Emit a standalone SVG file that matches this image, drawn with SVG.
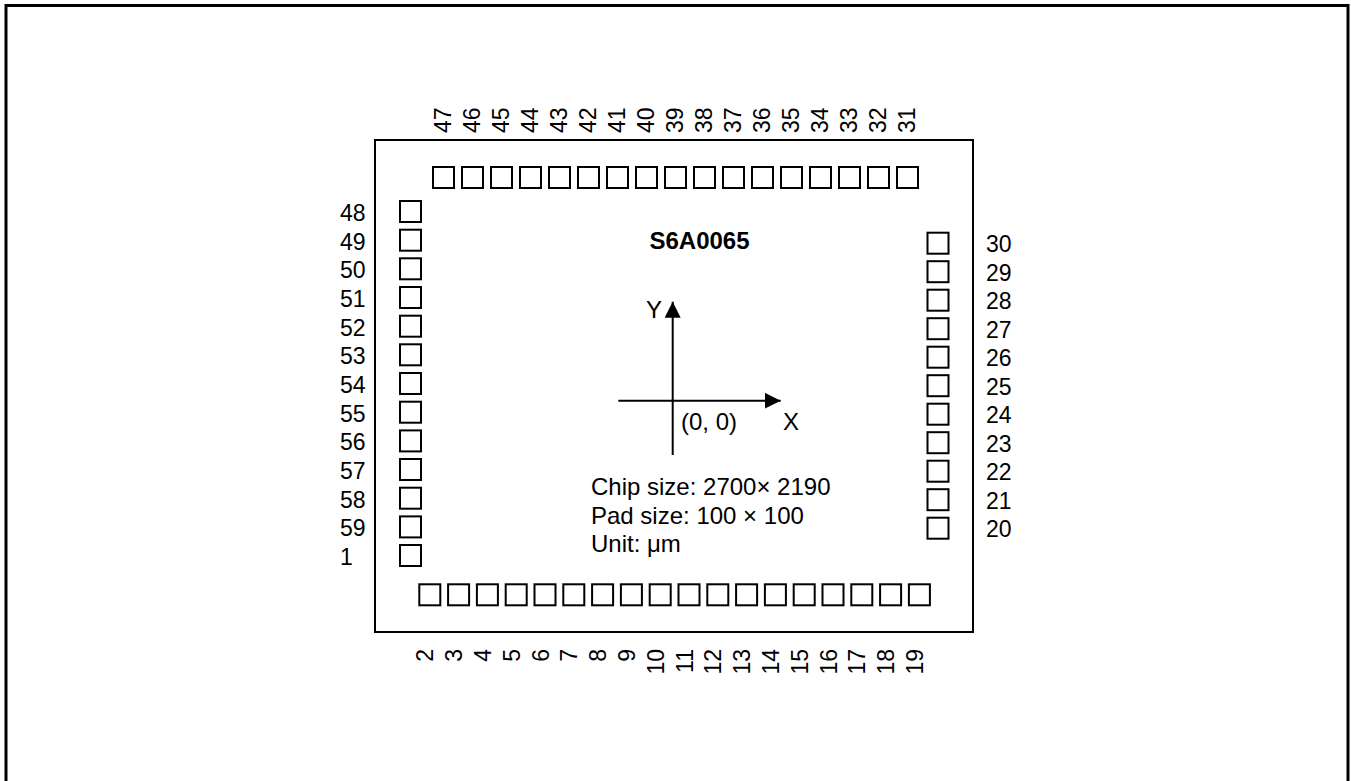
<svg xmlns="http://www.w3.org/2000/svg" width="1351" height="781" viewBox="0 0 1351 781">
<style>
.pad{fill:#fff;stroke:#000;stroke-width:2}
.lbl{font-family:"Liberation Sans",Arial,sans-serif;font-size:23px;fill:#000}
.txt{font-family:"Liberation Sans",Arial,sans-serif;font-size:24px;fill:#000}
.ax{stroke:#000;stroke-width:2;fill:none}
</style>
<defs>
<marker id="arrow" viewBox="0 0 16 16" refX="16" refY="8" markerWidth="16" markerHeight="16" markerUnits="userSpaceOnUse" orient="auto"><path d="M0,0 L16,8 L0,16 z" fill="#000"/></marker>
</defs>
<rect width="1351" height="781" fill="#fff"/>
<rect id="frame" x="6" y="5.5" width="1342" height="900" fill="none" stroke="#000" stroke-width="3"/>
<g id="chip"><rect x="375" y="140" width="598" height="492" fill="none" stroke="#000" stroke-width="2"/></g>
<g id="pads-top">
<g id="pad-47"><rect class="pad" x="433" y="167" width="21" height="21"/><text class="lbl" transform="translate(450.5,133) rotate(-90)">47</text></g>
<g id="pad-46"><rect class="pad" x="462" y="167" width="21" height="21"/><text class="lbl" transform="translate(479.5,133) rotate(-90)">46</text></g>
<g id="pad-45"><rect class="pad" x="491" y="167" width="21" height="21"/><text class="lbl" transform="translate(508.5,133) rotate(-90)">45</text></g>
<g id="pad-44"><rect class="pad" x="520" y="167" width="21" height="21"/><text class="lbl" transform="translate(537.5,133) rotate(-90)">44</text></g>
<g id="pad-43"><rect class="pad" x="549" y="167" width="21" height="21"/><text class="lbl" transform="translate(566.5,133) rotate(-90)">43</text></g>
<g id="pad-42"><rect class="pad" x="578" y="167" width="21" height="21"/><text class="lbl" transform="translate(595.5,133) rotate(-90)">42</text></g>
<g id="pad-41"><rect class="pad" x="607" y="167" width="21" height="21"/><text class="lbl" transform="translate(624.5,133) rotate(-90)">41</text></g>
<g id="pad-40"><rect class="pad" x="636" y="167" width="21" height="21"/><text class="lbl" transform="translate(653.5,133) rotate(-90)">40</text></g>
<g id="pad-39"><rect class="pad" x="665" y="167" width="21" height="21"/><text class="lbl" transform="translate(682.5,133) rotate(-90)">39</text></g>
<g id="pad-38"><rect class="pad" x="694" y="167" width="21" height="21"/><text class="lbl" transform="translate(711.5,133) rotate(-90)">38</text></g>
<g id="pad-37"><rect class="pad" x="723" y="167" width="21" height="21"/><text class="lbl" transform="translate(740.5,133) rotate(-90)">37</text></g>
<g id="pad-36"><rect class="pad" x="752" y="167" width="21" height="21"/><text class="lbl" transform="translate(769.5,133) rotate(-90)">36</text></g>
<g id="pad-35"><rect class="pad" x="781" y="167" width="21" height="21"/><text class="lbl" transform="translate(798.5,133) rotate(-90)">35</text></g>
<g id="pad-34"><rect class="pad" x="810" y="167" width="21" height="21"/><text class="lbl" transform="translate(827.5,133) rotate(-90)">34</text></g>
<g id="pad-33"><rect class="pad" x="839" y="167" width="21" height="21"/><text class="lbl" transform="translate(856.5,133) rotate(-90)">33</text></g>
<g id="pad-32"><rect class="pad" x="868" y="167" width="21" height="21"/><text class="lbl" transform="translate(885.5,133) rotate(-90)">32</text></g>
<g id="pad-31"><rect class="pad" x="897" y="167" width="21" height="21"/><text class="lbl" transform="translate(914.5,133) rotate(-90)">31</text></g>
</g>
<g id="pads-left">
<g id="pad-48"><rect class="pad" x="400" y="201" width="21" height="21"/><text class="lbl" x="340" y="221">48</text></g>
<g id="pad-49"><rect class="pad" x="400" y="229.7" width="21" height="21"/><text class="lbl" x="340" y="249.7">49</text></g>
<g id="pad-50"><rect class="pad" x="400" y="258.3" width="21" height="21"/><text class="lbl" x="340" y="278.3">50</text></g>
<g id="pad-51"><rect class="pad" x="400" y="287" width="21" height="21"/><text class="lbl" x="340" y="307">51</text></g>
<g id="pad-52"><rect class="pad" x="400" y="315.7" width="21" height="21"/><text class="lbl" x="340" y="335.7">52</text></g>
<g id="pad-53"><rect class="pad" x="400" y="344.3" width="21" height="21"/><text class="lbl" x="340" y="364.3">53</text></g>
<g id="pad-54"><rect class="pad" x="400" y="373" width="21" height="21"/><text class="lbl" x="340" y="393">54</text></g>
<g id="pad-55"><rect class="pad" x="400" y="401.7" width="21" height="21"/><text class="lbl" x="340" y="421.7">55</text></g>
<g id="pad-56"><rect class="pad" x="400" y="430.4" width="21" height="21"/><text class="lbl" x="340" y="450.4">56</text></g>
<g id="pad-57"><rect class="pad" x="400" y="459" width="21" height="21"/><text class="lbl" x="340" y="479">57</text></g>
<g id="pad-58"><rect class="pad" x="400" y="487.7" width="21" height="21"/><text class="lbl" x="340" y="507.7">58</text></g>
<g id="pad-59"><rect class="pad" x="400" y="516.4" width="21" height="21"/><text class="lbl" x="340" y="536.4">59</text></g>
<g id="pad-1"><rect class="pad" x="400" y="545" width="21" height="21"/><text class="lbl" x="340" y="565">1</text></g>
</g>
<g id="pads-right">
<g id="pad-30"><rect class="pad" x="927.5" y="232.7" width="21" height="21"/><text class="lbl" x="986" y="252.2">30</text></g>
<g id="pad-29"><rect class="pad" x="927.5" y="261.2" width="21" height="21"/><text class="lbl" x="986" y="280.7">29</text></g>
<g id="pad-28"><rect class="pad" x="927.5" y="289.7" width="21" height="21"/><text class="lbl" x="986" y="309.2">28</text></g>
<g id="pad-27"><rect class="pad" x="927.5" y="318.2" width="21" height="21"/><text class="lbl" x="986" y="337.7">27</text></g>
<g id="pad-26"><rect class="pad" x="927.5" y="346.7" width="21" height="21"/><text class="lbl" x="986" y="366.2">26</text></g>
<g id="pad-25"><rect class="pad" x="927.5" y="375.2" width="21" height="21"/><text class="lbl" x="986" y="394.7">25</text></g>
<g id="pad-24"><rect class="pad" x="927.5" y="403.7" width="21" height="21"/><text class="lbl" x="986" y="423.2">24</text></g>
<g id="pad-23"><rect class="pad" x="927.5" y="432.2" width="21" height="21"/><text class="lbl" x="986" y="451.7">23</text></g>
<g id="pad-22"><rect class="pad" x="927.5" y="460.7" width="21" height="21"/><text class="lbl" x="986" y="480.2">22</text></g>
<g id="pad-21"><rect class="pad" x="927.5" y="489.2" width="21" height="21"/><text class="lbl" x="986" y="508.7">21</text></g>
<g id="pad-20"><rect class="pad" x="927.5" y="517.7" width="21" height="21"/><text class="lbl" x="986" y="537.2">20</text></g>
</g>
<g id="pads-bottom">
<g id="pad-2"><rect class="pad" x="419.3" y="584.3" width="21" height="21"/><text class="lbl" text-anchor="end" transform="translate(433.3,649) rotate(-90)">2</text></g>
<g id="pad-3"><rect class="pad" x="448.1" y="584.3" width="21" height="21"/><text class="lbl" text-anchor="end" transform="translate(462.1,649) rotate(-90)">3</text></g>
<g id="pad-4"><rect class="pad" x="476.9" y="584.3" width="21" height="21"/><text class="lbl" text-anchor="end" transform="translate(490.9,649) rotate(-90)">4</text></g>
<g id="pad-5"><rect class="pad" x="505.7" y="584.3" width="21" height="21"/><text class="lbl" text-anchor="end" transform="translate(519.7,649) rotate(-90)">5</text></g>
<g id="pad-6"><rect class="pad" x="534.5" y="584.3" width="21" height="21"/><text class="lbl" text-anchor="end" transform="translate(548.5,649) rotate(-90)">6</text></g>
<g id="pad-7"><rect class="pad" x="563.3" y="584.3" width="21" height="21"/><text class="lbl" text-anchor="end" transform="translate(577.3,649) rotate(-90)">7</text></g>
<g id="pad-8"><rect class="pad" x="592.1" y="584.3" width="21" height="21"/><text class="lbl" text-anchor="end" transform="translate(606.1,649) rotate(-90)">8</text></g>
<g id="pad-9"><rect class="pad" x="620.9" y="584.3" width="21" height="21"/><text class="lbl" text-anchor="end" transform="translate(634.9,649) rotate(-90)">9</text></g>
<g id="pad-10"><rect class="pad" x="649.7" y="584.3" width="21" height="21"/><text class="lbl" text-anchor="end" transform="translate(663.7,649) rotate(-90)">10</text></g>
<g id="pad-11"><rect class="pad" x="678.5" y="584.3" width="21" height="21"/><text class="lbl" text-anchor="end" transform="translate(692.5,649) rotate(-90)">11</text></g>
<g id="pad-12"><rect class="pad" x="707.3" y="584.3" width="21" height="21"/><text class="lbl" text-anchor="end" transform="translate(721.3,649) rotate(-90)">12</text></g>
<g id="pad-13"><rect class="pad" x="736.1" y="584.3" width="21" height="21"/><text class="lbl" text-anchor="end" transform="translate(750.1,649) rotate(-90)">13</text></g>
<g id="pad-14"><rect class="pad" x="764.9" y="584.3" width="21" height="21"/><text class="lbl" text-anchor="end" transform="translate(778.9,649) rotate(-90)">14</text></g>
<g id="pad-15"><rect class="pad" x="793.7" y="584.3" width="21" height="21"/><text class="lbl" text-anchor="end" transform="translate(807.7,649) rotate(-90)">15</text></g>
<g id="pad-16"><rect class="pad" x="822.5" y="584.3" width="21" height="21"/><text class="lbl" text-anchor="end" transform="translate(836.5,649) rotate(-90)">16</text></g>
<g id="pad-17"><rect class="pad" x="851.3" y="584.3" width="21" height="21"/><text class="lbl" text-anchor="end" transform="translate(865.3,649) rotate(-90)">17</text></g>
<g id="pad-18"><rect class="pad" x="880.1" y="584.3" width="21" height="21"/><text class="lbl" text-anchor="end" transform="translate(894.1,649) rotate(-90)">18</text></g>
<g id="pad-19"><rect class="pad" x="908.9" y="584.3" width="21" height="21"/><text class="lbl" text-anchor="end" transform="translate(922.9,649) rotate(-90)">19</text></g>
</g>
<g id="title"><text class="txt" x="699.5" y="248.5" text-anchor="middle" font-weight="bold" font-size="23">S6A0065</text></g>
<g id="connectors">
<line class="ax" x1="672.7" y1="455" x2="672.7" y2="301.7" marker-end="url(#arrow)"/>
<line class="ax" x1="618.3" y1="400.7" x2="780.7" y2="400.7" marker-end="url(#arrow)"/>
</g>
<g id="axis-labels">
<text class="txt" x="662" y="317.5" text-anchor="end">Y</text>
<text class="txt" x="681" y="429.5">(0, 0)</text>
<text class="txt" x="783" y="429.5">X</text>
</g>
<g id="notes">
<text class="txt" x="591" y="495">Chip size: 2700× 2190</text>
<text class="txt" x="591" y="523.5">Pad size: 100 × 100</text>
<text class="txt" x="591" y="552">Unit: μm</text>
</g>
</svg>
